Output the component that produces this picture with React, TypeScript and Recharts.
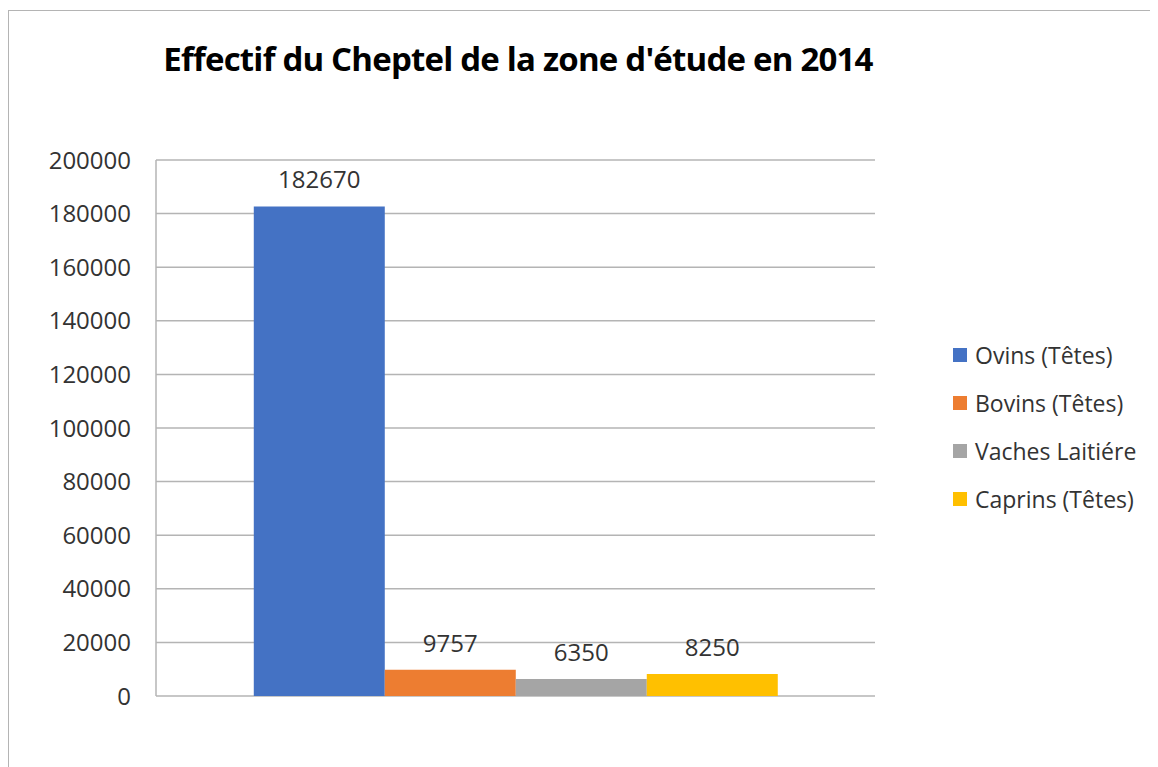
import React from "react";
import {
  BarChart,
  Bar,
  XAxis,
  YAxis,
  CartesianGrid,
  Legend,
  LabelList,
} from "recharts";

// Series (one bar each, single category)
const seriesKeys = ["ovins", "bovins", "vaches", "caprins"];
const seriesNames = [
  "Ovins (Têtes)",
  "Bovins (Têtes)",
  "Vaches Laitiére",
  "Caprins (Têtes)",
];
const seriesValues = [182670, 9757, 6350, 8250];
const seriesColors = ["#4472C4", "#ED7D31", "#A5A5A5", "#FFC000"];
const yTicks = [0, 20000, 40000, 60000, 80000, 100000, 120000, 140000, 160000, 180000, 200000];

const chartData = [
  seriesKeys.reduce(
    (row, key, i) => ({ ...row, [key]: seriesValues[i] }),
    { name: "2014" } as Record<string, string | number>
  ),
];

const FONT = "'Open Sans', sans-serif";
const TEXT = "#333333";
const GRID = "#B4B4B4";

function LegendBox() {
  return (
    <div style={{ fontFamily: FONT, fontSize: 23, color: TEXT }}>
      {seriesNames.map((name, i) => (
        <div
          key={name}
          style={{ display: "flex", alignItems: "center", height: 48 }}
        >
          <span
            style={{
              width: 14,
              height: 14,
              background: seriesColors[i],
              marginRight: 8,
              display: "inline-block",
            }}
          />
          <span>{name}</span>
        </div>
      ))}
    </div>
  );
}

export default function App() {
  return (
    <div
      style={{
        position: "relative",
        marginTop: 2,
        width: 1160,
        height: 770,
        border: `1px solid ${GRID}`,
        background: "#fff",
      }}
    >
      <div style={{ position: "absolute", left: -9, top: -11, width: 1158, height: 767 }}>
        <div
          style={{
            position: "absolute",
            left: 0,
            width: 1036,
            top: 36,
            textAlign: "center",
            fontFamily: FONT,
            fontWeight: 700,
            fontSize: 33,
            letterSpacing: -0.8,
            color: "#000",
            lineHeight: "46px",
          }}
        >
          Effectif du Cheptel de la zone d'étude en 2014
        </div>
        <BarChart
          width={1158}
          height={767}
          data={chartData}
          margin={{ top: 160, right: 83, bottom: 71, left: 0 }}
          barCategoryGap="13.6%"
          barGap={0}
        >
          <CartesianGrid vertical={false} stroke={GRID} strokeWidth={1.5} />
          <XAxis dataKey="name" hide />
          <YAxis
            width={156}
            domain={[0, 200000]}
            ticks={yTicks}
            interval={0}
            tickLine={false}
            tickSize={0}
            tickMargin={25}
            axisLine={{ stroke: GRID, strokeWidth: 1.5 }}
            tick={{ fill: TEXT, fontSize: 24, fontFamily: FONT }}
          />
          <Legend
            layout="vertical"
            align="right"
            verticalAlign="top"
            wrapperStyle={{ left: 953, top: 331, width: 200 }}
            content={() => <LegendBox />}
          />
          {seriesKeys.map((key, i) => (
            <Bar
              key={key}
              dataKey={key}
              name={seriesNames[i]}
              fill={seriesColors[i]}
              isAnimationActive={false}
            >
              <LabelList
                dataKey={key}
                position="top"
                offset={18}
                fill={TEXT}
                fontSize={24}
                fontFamily={FONT}
              />
            </Bar>
          ))}
        </BarChart>
      </div>
    </div>
  );
}
